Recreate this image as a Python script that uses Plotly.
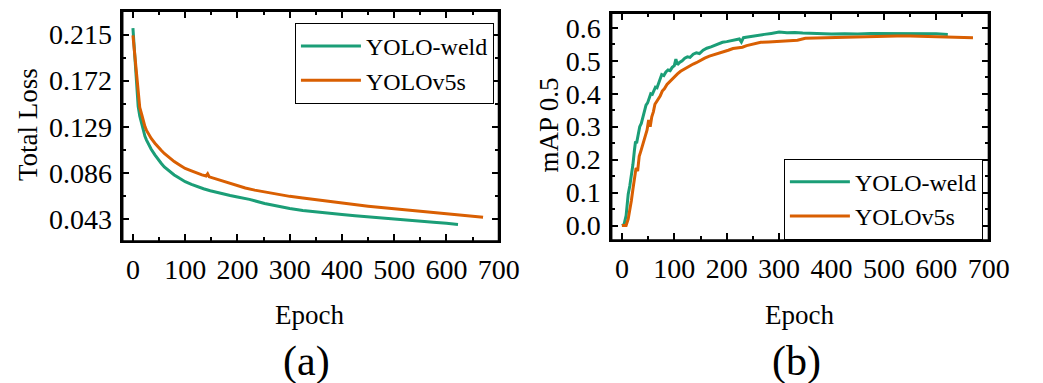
import plotly.graph_objects as go

# ---------------- data ----------------
loss_weld_epoch = [0, 2, 4, 6, 8, 10, 13, 17, 20, 23, 26, 29, 35, 42, 48, 54, 60, 67, 73, 79,
                   90, 100, 112, 123, 135, 148, 160, 173, 186, 200, 223, 252, 275, 300, 325,
                   350, 375, 400, 425, 450, 475, 500, 525, 550, 575, 600, 622]
loss_weld = [0.221, 0.205, 0.187, 0.170, 0.158, 0.148, 0.139, 0.131, 0.125, 0.120, 0.1165,
             0.1136, 0.108, 0.1027, 0.0985, 0.0949, 0.0915, 0.0886, 0.0862, 0.0840, 0.0806,
             0.0777, 0.0752, 0.0730, 0.0711, 0.0693, 0.0677, 0.0662, 0.0648, 0.0634, 0.0612,
             0.0574, 0.0548, 0.0526, 0.0509, 0.0494, 0.0482, 0.0470, 0.0458, 0.0447, 0.0436,
             0.0425, 0.0417, 0.0408, 0.0398, 0.0388, 0.0378]

loss_v5_epoch = [0, 2, 4, 6, 8, 10, 13, 17, 20, 23, 26, 29, 35, 42, 48, 54, 60, 67, 73, 79,
                 90, 100, 112, 123, 132, 140, 143, 146, 160, 173, 186, 200, 215, 233, 252,
                 275, 300, 325, 350, 375, 400, 425, 450, 475, 500, 525, 550, 575, 600, 625,
                 650, 670]
loss_v5 = [0.2143, 0.204, 0.193, 0.179, 0.166, 0.156, 0.147, 0.140, 0.134, 0.129, 0.1255,
           0.123, 0.118, 0.1136, 0.110, 0.107, 0.104, 0.101, 0.0985, 0.0964, 0.093, 0.090,
           0.0877, 0.0855, 0.0840, 0.0830, 0.0850, 0.0822, 0.0800, 0.0780, 0.0758, 0.0738,
           0.0718, 0.0698, 0.0680, 0.0660, 0.0640, 0.0624, 0.0608, 0.0593, 0.0578, 0.0563,
           0.0548, 0.0535, 0.0523, 0.0513, 0.0504, 0.0492, 0.0480, 0.0468, 0.0456, 0.0444]

map_weld_epoch = [0, 4, 8, 12, 15, 18, 21, 24, 26, 28, 31, 34, 37, 40, 43, 46, 49, 52, 55, 58,
                  61, 64, 67, 70, 73, 76, 80, 84, 88, 92, 96, 100, 103, 106, 110, 115, 120,
                  125, 130, 136, 142, 148, 155, 162, 170, 178, 185, 192, 200, 208, 216, 224,
                  228, 232, 240, 250, 260, 272, 285, 300, 315, 330, 345, 360, 380, 400, 425,
                  450, 475, 500, 525, 550, 575, 600, 622]
map_weld = [0.000, 0.003, 0.030, 0.095, 0.120, 0.150, 0.185, 0.230, 0.255, 0.250, 0.275,
            0.300, 0.310, 0.330, 0.345, 0.365, 0.372, 0.385, 0.400, 0.398, 0.410, 0.420,
            0.418, 0.432, 0.445, 0.458, 0.455, 0.466, 0.472, 0.470, 0.480, 0.485, 0.505,
            0.488, 0.495, 0.500, 0.508, 0.512, 0.510, 0.520, 0.524, 0.522, 0.532, 0.538,
            0.542, 0.548, 0.552, 0.556, 0.558, 0.560, 0.562, 0.566, 0.557, 0.570, 0.572,
            0.575, 0.577, 0.580, 0.583, 0.587, 0.585, 0.586, 0.584, 0.583, 0.582, 0.581,
            0.582, 0.581, 0.583, 0.583, 0.584, 0.584, 0.583, 0.582, 0.580]

map_v5_epoch = [0, 8, 12, 15, 18, 21, 24, 27, 30, 33, 36, 39, 42, 45, 48, 51, 54, 57, 60, 63,
                66, 69, 73, 77, 81, 86, 91, 96, 101, 106, 112, 118, 124, 130, 136, 142, 150,
                158, 167, 176, 185, 194, 203, 212, 221, 230, 238, 246, 255, 265, 280, 300,
                320, 335, 350, 375, 400, 425, 450, 475, 500, 525, 550, 575, 600, 625, 650, 670]
map_v5 = [0.000, 0.000, 0.020, 0.045, 0.075, 0.110, 0.140, 0.175, 0.165, 0.210, 0.225, 0.240,
          0.256, 0.275, 0.290, 0.320, 0.300, 0.330, 0.345, 0.368, 0.375, 0.385, 0.393, 0.408,
          0.415, 0.428, 0.436, 0.446, 0.455, 0.460, 0.468, 0.474, 0.480, 0.485, 0.490, 0.494,
          0.502, 0.508, 0.514, 0.518, 0.523, 0.527, 0.532, 0.537, 0.540, 0.541, 0.546, 0.549,
          0.553, 0.556, 0.557, 0.558, 0.560, 0.562, 0.568, 0.569, 0.570, 0.572, 0.573, 0.575,
          0.576, 0.575, 0.575, 0.574, 0.573, 0.572, 0.571, 0.570]

loss_ticks = [0.043, 0.086, 0.129, 0.172, 0.215]
loss_tick_text = ["0.043", "0.086", "0.129", "0.172", "0.215"]
series_names = ["YOLO-weld", "YOLOv5s"]

# ---------------- style ----------------
GREEN = "#1b9e77"
ORANGE = "#d95f02"
FONT = "Liberation Serif, Times New Roman, serif"

fig = go.Figure()
fig.add_trace(go.Scatter(x=loss_weld_epoch, y=loss_weld, mode="lines", name=series_names[0],
                         line=dict(color=GREEN, width=3), xaxis="x", yaxis="y", legend="legend"))
fig.add_trace(go.Scatter(x=loss_v5_epoch, y=loss_v5, mode="lines", name=series_names[1],
                         line=dict(color=ORANGE, width=3), xaxis="x", yaxis="y", legend="legend"))
fig.add_trace(go.Scatter(x=map_weld_epoch, y=map_weld, mode="lines", name=series_names[0],
                         line=dict(color=GREEN, width=3), xaxis="x2", yaxis="y2", legend="legend2"))
fig.add_trace(go.Scatter(x=map_v5_epoch, y=map_v5, mode="lines", name=series_names[1],
                         line=dict(color=ORANGE, width=3), xaxis="x2", yaxis="y2", legend="legend2"))

W, H = 1043, 383

def px_x(p):
    return p / W

def px_y(p):
    return 1 - p / H

axis_common = dict(showline=True, linecolor="black", linewidth=2, mirror="ticks",
                   ticks="inside", ticklen=7, tickwidth=2, tickcolor="black",
                   showgrid=False, zeroline=False,
                   tickfont=dict(family=FONT, size=28, color="black"))

minor_common = dict(ticks="inside", ticklen=4, tickwidth=2, tickcolor="black")

legend_common = dict(xanchor="left", yanchor="top", bordercolor="black", borderwidth=1,
                     bgcolor="white", font=dict(family=FONT, size=24, color="black"),
                     tracegroupgap=0, itemwidth=60)

fig.update_layout(
    width=W, height=H,
    margin=dict(l=0, r=0, t=0, b=0),
    paper_bgcolor="white", plot_bgcolor="white",
    font=dict(family=FONT, color="black"),
    xaxis=dict(domain=[px_x(125), px_x(509)], range=[-20, 700], dtick=100, anchor="y",
               minor=dict(dtick=50, **minor_common),
               ticklabelstandoff=2, **axis_common),
    yaxis=dict(domain=[px_y(242), px_y(11)], range=[0.022, 0.237], anchor="x",
               tickvals=loss_ticks, ticktext=loss_tick_text,
               minor=dict(dtick=0.0215, tick0=0, **minor_common),
               ticklabelstandoff=3, **axis_common),
    xaxis2=dict(domain=[px_x(624), px_x(1009)], range=[-20, 700], dtick=100, anchor="y2",
                minor=dict(dtick=50, **minor_common),
                ticklabelstandoff=2, **axis_common),
    yaxis2=dict(domain=[px_y(241), px_y(13)], range=[-0.045, 0.645], anchor="x2",
                dtick=0.1, tickformat=".1f",
                minor=dict(dtick=0.05, **minor_common),
                ticklabelstandoff=3, **axis_common),
    legend=dict(x=px_x(301), y=px_y(23), **legend_common),
    legend2=dict(x=px_x(800), y=px_y(159), **legend_common),
    showlegend=True,
)

# closed black frames around both plot areas
for xr, yr in (("x domain", "y domain"), ("x2 domain", "y2 domain")):
    fig.add_shape(type="rect", xref=xr, yref=yr, x0=0, x1=1, y0=0, y1=1,
                  line=dict(color="black", width=2), layer="above")

ann_font = dict(family=FONT, size=27, color="black")
annotations = [
    dict(text="Total Loss", x=px_x(28), y=px_y(125), textangle=-90, font=ann_font),
    dict(text="mAP 0.5", x=px_x(560), y=px_y(125), textangle=-90, font=ann_font),
    dict(text="Epoch", x=px_x(316), y=px_y(316), font=ann_font),
    dict(text="Epoch", x=px_x(816), y=px_y(316), font=ann_font),
    dict(text="(a)", x=px_x(313), y=px_y(362), font=dict(family=FONT, size=42, color="black")),
    dict(text="(b)", x=px_x(813), y=px_y(362), font=dict(family=FONT, size=42, color="black")),
]
for a in annotations:
    a.update(xref="paper", yref="paper", showarrow=False, xanchor="center", yanchor="middle")
fig.update_layout(annotations=annotations)

fig.write_html("out.html")
